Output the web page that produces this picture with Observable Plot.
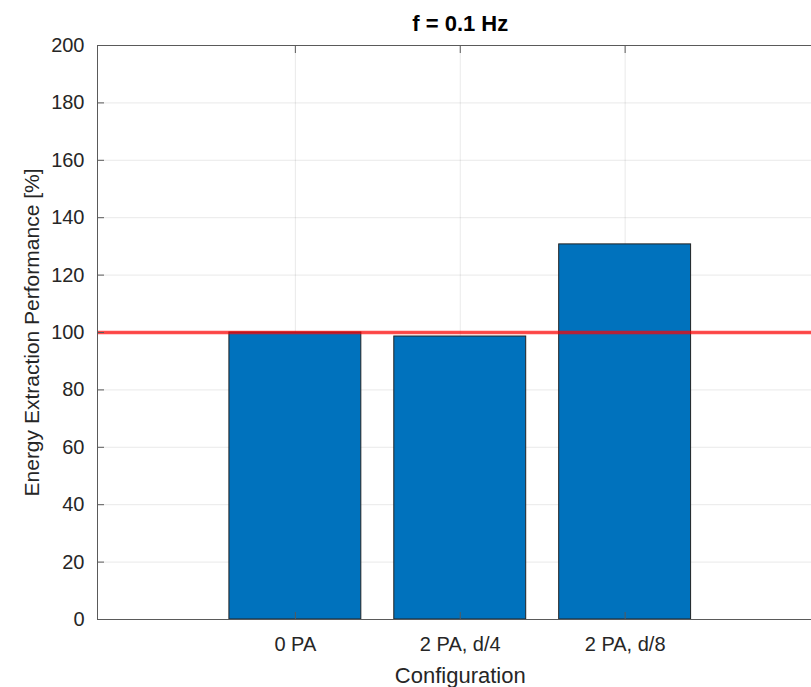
<!DOCTYPE html>
<html>
<head>
<meta charset="utf-8">
<script src="https://cdn.jsdelivr.net/npm/d3@7"></script>
<script src="https://cdn.jsdelivr.net/npm/@observablehq/plot@0.6"></script>
<style>
  html, body { margin: 0; padding: 0; background: white; overflow: hidden; }
</style>
</head>
<body>
<div id="chart"></div>
<script>
const categories = ["0 PA", "2 PA, d/4", "2 PA, d/8"];
const values = [100, 98.6, 130.7];
const positions = [1, 2, 3];
const yTicks = [0, 20, 40, 60, 80, 100, 120, 140, 160, 180, 200];
const referenceLevel = [100];
const titleText = "f = 0.1 Hz";
const xLabel = "Configuration";
const yLabel = "Energy Extraction Performance [%]";

const data = categories.map((c, i) => ({ pos: positions[i], cat: c, value: values[i] }));
const barHalf = 0.4;

const chart = Plot.plot({
  width: 811,
  height: 687,
  marginTop: 45,
  marginLeft: 97,
  marginRight: -11.5,
  marginBottom: 68,
  x: { type: "linear", domain: [-0.2, 4.2] },
  y: { domain: [0, 200] },
  style: { fontFamily: "'Liberation Sans', Arial, Helvetica, sans-serif", color: "#262626", background: "white" },
  marks: [
    Plot.gridY(yTicks, { stroke: "#262626", strokeOpacity: 0.1, strokeWidth: 1 }),
    Plot.gridX(positions, { stroke: "#262626", strokeOpacity: 0.1, strokeWidth: 1 }),
    Plot.rectY(data, {
      x1: d => d.pos - barHalf,
      x2: d => d.pos + barHalf,
      y: "value",
      fill: "#0072BD",
      stroke: "#222222",
      strokeWidth: 1
    }),
    Plot.ruleY(referenceLevel, { stroke: "#ff0000", strokeOpacity: 0.7, strokeWidth: 3.5 }),
    Plot.frame({ stroke: "#5a5a5a", strokeWidth: 1 }),
    Plot.axisY(yTicks, {
      anchor: "left",
      tickSize: -7,
      tickPadding: 20,
      fontSize: 20,
      stroke: "#5a5a5a",
      label: null
    }),
    Plot.axisX(positions, {
      anchor: "bottom",
      tickSize: -7,
      tickPadding: 24,
      fontSize: 20,
      stroke: "#5a5a5a",
      tickFormat: d => categories[d - 1],
      label: null
    }),
    Plot.axisX(positions, {
      anchor: "top",
      tickSize: -7,
      tickFormat: () => "",
      stroke: "#5a5a5a",
      label: null
    }),
    Plot.text([titleText], {
      frameAnchor: "top",
      dy: -21.5,
      lineAnchor: "middle",
      fontSize: 22,
      fontWeight: "bold",
      fill: "#000000"
    }),
    Plot.text([xLabel], {
      frameAnchor: "bottom",
      dy: 56,
      lineAnchor: "middle",
      fontSize: 22,
      fill: "#262626"
    }),
    Plot.text([yLabel], {
      frameAnchor: "left",
      dx: -65.5,
      rotate: -90,
      textAnchor: "middle",
      lineAnchor: "middle",
      fontSize: 21,
      fill: "#262626"
    })
  ]
});
document.getElementById("chart").appendChild(chart);
</script>
</body>
</html>
